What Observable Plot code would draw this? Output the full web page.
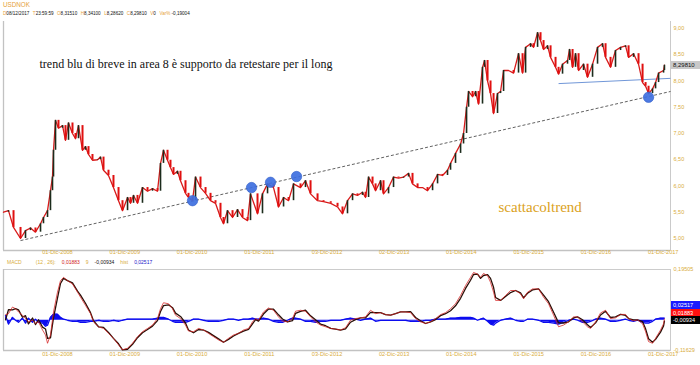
<!DOCTYPE html>
<html><head><meta charset="utf-8">
<script src="https://cdn.jsdelivr.net/npm/d3@7"></script>
<script src="https://cdn.jsdelivr.net/npm/@observablehq/plot@0.6"></script>
<style>
body{margin:0;background:#fff;font-family:"Liberation Sans",Arial,sans-serif;}
#wrap{position:relative;width:700px;height:365px;overflow:hidden;background:#fff;}
.s{position:absolute;white-space:pre;line-height:1;}
.row{position:absolute;white-space:pre;line-height:1;}
.box{position:absolute;white-space:pre;line-height:8px;height:8px;font-size:6px;padding-left:2px;box-sizing:border-box;}
#p1{position:absolute;left:0;top:18px;}
#p2{position:absolute;left:0;top:261px;}
</style></head>
<body><div id="wrap"><div id="p1"></div><div id="p2"></div></div>
<script>
const gold = "#d8ac3c";
const orange = "#e6a23a";

// header
const title = "USDNOK";
const quoteLabels = ["D", "T", "O", "H", "L", "C", "V", "Var%"];
const quoteValues = ["08/12/2017", "23:59:59", "8,31510", "8,34100", "8,28620", "8,29810", "0", "-0,19004"];
const macdHeader = [["MACD", gold], ["(12 , 26):", gold], ["0,01883", "#d01818"], ["9", gold], ["-0,00934", "#111"], ["hist", gold], ["0,02517", "#1818c8"]];

// axes
const xDomain = [2008.115, 2018.025];
const priceDomain = [4.771, 9.133];
const macdDomain = [-0.11629, 0.19505];
const xTickPos = [2008.917, 2009.917, 2010.917, 2011.917, 2012.922, 2013.919, 2014.917, 2015.917, 2016.917, 2017.917];
const xTickLabels = ["01-Dic-2008", "01-Dic-2009", "01-Dic-2010", "01-Dic-2011", "03-Dic-2012", "02-Dic-2013", "01-Dic-2014", "01-Dic-2015", "01-Dic-2016", "01-Dic-2017"];
const yTicks = [5, 5.5, 6, 6.5, 7, 7.5, 8, 8.5, 9];

// price (decimal year, close)
const price = [
[2008.115,5.50],[2008.189,5.53],[2008.264,5.21],[2008.368,5.00],[2008.442,5.15],[2008.516,5.20],[2008.590,5.12],[2008.665,5.28],
[2008.709,5.40],[2008.769,5.53],[2008.813,5.91],[2008.843,6.17],[2008.858,6.68],[2008.888,7.25],[2008.932,7.10],[2008.992,7.15],
[2009.036,6.87],[2009.081,7.20],[2009.140,7.00],[2009.185,6.90],[2009.229,7.15],[2009.289,6.68],[2009.333,6.75],[2009.378,6.60],
[2009.437,6.49],[2009.512,6.50],[2009.556,6.55],[2009.601,6.30],[2009.675,6.20],[2009.749,5.97],[2009.824,5.72],[2009.883,5.53],
[2009.958,5.78],[2010.002,5.67],[2010.047,5.82],[2010.106,5.67],[2010.180,5.97],[2010.255,5.90],[2010.329,5.95],[2010.403,5.90],
[2010.448,6.43],[2010.492,6.68],[2010.552,6.49],[2010.596,6.35],[2010.641,6.22],[2010.700,6.28],[2010.745,6.10],[2010.819,5.86],
[2010.864,5.78],[2010.923,5.72],[2010.968,6.17],[2011.042,5.97],[2011.117,5.86],[2011.191,5.72],[2011.265,5.67],[2011.339,5.40],
[2011.384,5.28],[2011.443,5.53],[2011.518,5.40],[2011.592,5.55],[2011.666,5.40],[2011.741,5.34],[2011.785,5.85],[2011.889,5.47],
[2011.963,5.85],[2012.038,6.04],[2012.127,5.97],[2012.201,5.60],[2012.276,5.78],[2012.350,5.72],[2012.424,6.04],[2012.528,5.97],
[2012.602,6.10],[2012.677,5.85],[2012.781,5.72],[2012.870,5.70],[2012.977,5.67],[2013.078,5.60],[2013.152,5.47],[2013.226,5.72],
[2013.301,5.85],[2013.375,5.82],[2013.449,5.88],[2013.494,5.78],[2013.539,6.17],[2013.598,6.04],[2013.643,5.91],[2013.717,6.10],
[2013.761,5.85],[2013.836,5.97],[2013.910,6.17],[2013.984,6.15],[2014.059,6.17],[2014.133,6.24],[2014.192,6.04],[2014.267,5.97],
[2014.341,5.97],[2014.415,5.91],[2014.490,6.04],[2014.564,6.22],[2014.638,6.20],[2014.712,6.30],[2014.757,6.43],[2014.831,6.62],
[2014.906,6.80],[2014.950,7.00],[2014.995,7.50],[2015.025,7.80],[2015.084,7.70],[2015.129,7.80],[2015.173,7.56],[2015.232,8.26],
[2015.262,8.39],[2015.307,8.00],[2015.351,7.76],[2015.396,7.38],[2015.455,7.76],[2015.500,7.80],[2015.545,8.20],[2015.619,8.20],
[2015.693,8.15],[2015.767,8.52],[2015.827,8.15],[2015.872,8.64],[2015.946,8.71],[2015.990,8.64],[2016.050,8.92],[2016.094,8.77],
[2016.139,8.60],[2016.198,8.67],[2016.243,8.45],[2016.317,8.26],[2016.362,8.13],[2016.421,8.32],[2016.495,8.39],[2016.525,8.60],
[2016.570,8.26],[2016.614,8.52],[2016.659,8.20],[2016.733,8.32],[2016.792,8.07],[2016.867,8.32],[2016.941,8.64],[2017.015,8.71],
[2017.060,8.45],[2017.134,8.26],[2017.208,8.58],[2017.283,8.64],[2017.357,8.67],[2017.402,8.45],[2017.476,8.52],[2017.550,8.32],
[2017.610,7.97],[2017.655,7.90],[2017.699,7.76],[2017.758,7.85],[2017.803,7.97],[2017.848,8.15],[2017.922,8.20],[2017.935,8.30]
];
const lastClose = 8.2981;

// annotations
const trendLine = [{x1: 2008.368, y1: 4.96, x2: 2018.025, y2: 7.80}];
const supportLine = [{x1: 2016.362, y1: 7.95, x2: 2018.025, y2: 8.05}];
const touches = [[2010.923, 5.72], [2011.800, 5.97], [2012.082, 6.07], [2012.469, 6.18], [2017.699, 7.69]];
const notes = [
  {x: 2008.65, y: 8.33, text: "trend blu di breve in area 8 è supporto da retestare per il long", size: 12, color: "#111"},
  {x: 2015.47, y: 5.59, text: "scattacoltrend", size: 15, color: "#dba21c"}
];

// MACD (decimal year, macd, histogram)
const macd = [
[2008.145,0.0205,0.019],[2008.189,0.0254,-0.015],[2008.249,0.0509,0.011],[2008.293,0.0444,0.000],[2008.338,0.0319,-0.008],
[2008.397,0.0194,0.008],[2008.442,0.0065,-0.011],[2008.486,-0.0061,0.008],[2008.546,0.0004,-0.008],[2008.590,-0.0125,0.004],
[2008.635,-0.0061,-0.008],[2008.695,-0.0376,-0.011],[2008.739,-0.0566,-0.023],[2008.769,-0.0885,-0.019],[2008.813,-0.0566,0.011],
[2008.858,0.0319,0.023],[2008.917,0.1078,0.023],[2008.962,0.1523,0.011],[2009.007,0.1648,0.004],[2009.066,0.1523,0.000],
[2009.140,0.1394,-0.004],[2009.215,0.1078,-0.004],[2009.259,0.0888,-0.008],[2009.333,0.0573,-0.008],[2009.408,0.0254,-0.004],
[2009.452,-0.0061,-0.004],[2009.527,-0.0251,0.000],[2009.601,-0.0315,-0.004],[2009.675,-0.0505,-0.004],[2009.749,-0.0695,0.000],
[2009.824,-0.0945,-0.004],[2009.883,-0.1135,0.000],[2009.958,-0.1075,0.004],[2010.032,-0.0885,0.004],[2010.106,-0.0630,0.004],
[2010.180,-0.0440,0.004],[2010.255,-0.0315,0.004],[2010.329,-0.0186,0.004],[2010.403,0.0065,0.008],[2010.448,0.0444,0.011],
[2010.492,0.0672,0.011],[2010.567,0.0634,0.004],[2010.626,0.0444,-0.004],[2010.671,0.0194,-0.008],[2010.745,0.0065,-0.008],
[2010.819,-0.0186,-0.008],[2010.864,-0.0414,-0.004],[2010.938,-0.0440,0.004],[2011.013,-0.0315,0.004],[2011.087,-0.0376,0.000],
[2011.161,-0.0505,-0.004],[2011.235,-0.0630,-0.004],[2011.310,-0.0756,-0.004],[2011.384,-0.0847,0.000],[2011.458,-0.0695,0.004],
[2011.533,-0.0566,0.004],[2011.607,-0.0505,0.000],[2011.681,-0.0376,0.004],[2011.756,-0.0315,0.004],[2011.815,-0.0061,0.008],
[2011.860,0.0065,0.004],[2011.904,0.0004,0.004],[2011.978,0.0319,0.008],[2012.053,0.0471,0.004],[2012.127,0.0384,-0.004],
[2012.201,0.0129,-0.008],[2012.261,-0.0034,-0.008],[2012.335,-0.0061,0.000],[2012.409,0.0065,0.008],[2012.454,0.0346,0.008],
[2012.528,0.0384,0.004],[2012.602,0.0346,-0.004],[2012.677,0.0129,-0.004],[2012.751,-0.0061,-0.008],[2012.825,-0.0186,-0.004],
[2012.900,-0.0251,-0.004],[2012.977,-0.0315,0.000],[2013.048,-0.0338,0.000],[2013.123,-0.0376,0.000],[2013.197,-0.0289,0.004],
[2013.271,0.0004,0.008],[2013.345,0.0065,0.004],[2013.420,0.0091,0.000],[2013.494,0.0129,0.004],[2013.568,0.0384,0.008],
[2013.643,0.0254,-0.004],[2013.717,0.0292,0.000],[2013.791,0.0216,0.000],[2013.866,0.0194,0.000],[2013.940,0.0254,0.000],
[2014.014,0.0319,0.000],[2014.088,0.0319,0.000],[2014.163,0.0292,-0.004],[2014.237,0.0065,-0.004],[2014.311,-0.0061,-0.004],
[2014.386,-0.0125,0.000],[2014.460,-0.0061,0.000],[2014.534,0.0065,0.004],[2014.608,0.0216,0.004],[2014.683,0.0292,0.004],
[2014.757,0.0444,0.008],[2014.831,0.0634,0.008],[2014.906,0.0953,0.011],[2014.980,0.1333,0.011],[2015.054,0.1648,0.011],
[2015.099,0.1838,0.008],[2015.158,0.1773,0.000],[2015.203,0.1648,0.004],[2015.247,0.1800,0.008],[2015.307,0.1712,-0.004],
[2015.351,0.1458,-0.015],[2015.396,0.1078,-0.019],[2015.426,0.0763,-0.011],[2015.500,0.0763,0.000],[2015.574,0.0953,0.004],
[2015.649,0.1143,0.008],[2015.723,0.1143,0.000],[2015.797,0.1014,-0.004],[2015.842,0.0824,-0.004],[2015.901,0.1078,0.004],
[2015.975,0.1204,0.004],[2016.065,0.1204,0.000],[2016.139,0.0888,-0.008],[2016.213,0.0634,-0.008],[2016.288,0.0194,-0.011],
[2016.362,-0.0251,-0.015],[2016.436,-0.0186,-0.008],[2016.510,-0.0061,0.000],[2016.585,0.0129,0.004],[2016.644,0.0129,0.000],
[2016.718,-0.0061,-0.008],[2016.792,-0.0251,-0.008],[2016.837,-0.0315,-0.004],[2016.912,-0.0061,0.004],[2016.986,0.0281,0.008],
[2017.060,0.0384,0.004],[2017.134,0.0065,-0.004],[2017.208,0.0091,-0.004],[2017.283,0.0224,0.000],[2017.357,0.0224,0.004],
[2017.402,0.0065,0.000],[2017.476,-0.0023,-0.004],[2017.536,0.0015,0.000],[2017.610,-0.0137,-0.008],[2017.655,-0.0440,-0.011],
[2017.699,-0.0820,-0.011],[2017.758,-0.0885,-0.004],[2017.803,-0.0695,0.004],[2017.877,-0.0376,0.008],[2017.922,-0.0137,0.008],
[2017.935,0.0050,0.008]
];
const macdLast = {hist: 0.02517, macd: 0.01883, signal: -0.00934};

// tables
const rows = price.map(([t, c], i) => ({t, c, o: i ? price[i - 1][1] : c}));
const macdRows = macd.map(([t, m, h]) => ({t, m, h, s: m - h}));
const labelOf = new Map(xTickPos.map((p, i) => [p, xTickLabels[i]]));
const fmt2 = d => d.toFixed(2).replace(".", ",");
const fmt5 = d => (d < 0 ? "-" : "") + Math.abs(d).toFixed(5).replace(".", ",");

const font = {fontFamily: "'Liberation Sans', Arial, sans-serif", background: "transparent", overflow: "visible"};

const main = Plot.plot({
  width: 700, height: 243, marginTop: 3, marginBottom: 11, marginLeft: 3, marginRight: 30,
  style: font,
  x: {domain: xDomain},
  y: {domain: priceDomain},
  marks: [
    Plot.ruleX([xDomain[0]], {stroke: "#c2c2c2", strokeWidth: 1.3}),
    Plot.ruleX([xDomain[1]], {stroke: "#cacaca", strokeWidth: 1}),
    Plot.ruleY([priceDomain[0]], {stroke: "#c2c2c2", strokeWidth: 1.3}),
    Plot.axisX({ticks: xTickPos, tickFormat: d => labelOf.get(d), tickSize: 0, tickPadding: 0, fontSize: 5.6, color: gold, label: null}),
    Plot.axisY({anchor: "right", ticks: yTicks, tickFormat: fmt2, tickSize: 0, tickPadding: 3, fontSize: 5.5, color: gold, label: null}),
    Plot.link(trendLine, {x1: "x1", y1: "y1", x2: "x2", y2: "y2", stroke: "#3a3a3a", strokeWidth: 0.8, strokeDasharray: "3,2"}),
    Plot.link(supportLine, {x1: "x1", y1: "y1", x2: "x2", y2: "y2", stroke: "#7197d8", strokeWidth: 1}),
    Plot.line(rows, {x: "t", y: "c", stroke: "#d81a1a", strokeWidth: 1.3}),
    Plot.ruleX(rows.filter(d => d.c < d.o), {x: "t", y1: "o", y2: "c", stroke: "#e01010", strokeWidth: 2}),
    Plot.ruleX(rows.filter(d => d.c >= d.o), {x: "t", y1: "o", y2: "c", stroke: "#1c2c1c", strokeWidth: 1.6}),
    Plot.dot(touches, {x: d => d[0], y: d => d[1], r: 5.2, fill: "#3e6fe0", fillOpacity: 0.92, stroke: "#2f5cc8", strokeWidth: 0.6}),
    Plot.text(notes, {x: "x", y: "y", text: "text", fontSize: d => d.size, fill: d => d.color, textAnchor: "start", lineAnchor: "middle", fontFamily: "'Liberation Serif', 'Times New Roman', serif"})
  ]
});
document.getElementById("p1").appendChild(main);

const sub = Plot.plot({
  width: 700, height: 104, marginTop: 8, marginBottom: 15, marginLeft: 3, marginRight: 30,
  style: font,
  x: {domain: xDomain},
  y: {domain: macdDomain},
  marks: [
    Plot.frame({stroke: "#cccccc"}),
    Plot.ruleX([xDomain[0]], {stroke: "#c2c2c2", strokeWidth: 1.3}),
    Plot.ruleY([macdDomain[0]], {stroke: "#c2c2c2", strokeWidth: 1.3}),
    Plot.axisX({ticks: xTickPos, tickFormat: d => labelOf.get(d), tickSize: 0, tickPadding: 2, fontSize: 5.6, color: gold, label: null}),
    Plot.axisY({anchor: "right", ticks: macdDomain, tickFormat: fmt5, tickSize: 0, tickPadding: 3, fontSize: 5.5, color: gold, label: null}),
    Plot.areaY(macdRows, {x: "t", y1: () => 0, y2: "h", fill: "#0c0cef"}),
    Plot.line(macdRows, {x: "t", y: "h", stroke: "#0c0cef", strokeWidth: 1.3}),
    Plot.line(macdRows, {x: "t", y: "s", stroke: "#2a1008", strokeWidth: 1.3}),
    Plot.line(macdRows, {x: "t", y: "m", stroke: "#d42020", strokeWidth: 1, strokeOpacity: 0.75})
  ]
});
document.getElementById("p2").appendChild(sub);

// overlay texts
const wrap = document.getElementById("wrap");
function span(text, left, top, size, color, cls = "s") {
  const e = document.createElement("div");
  e.className = cls; e.textContent = text;
  e.style.left = left + "px"; e.style.top = top + "px";
  e.style.fontSize = size + "px"; e.style.color = color;
  wrap.appendChild(e); return e;
}
span(title, 3, 2, 6.3, orange);

// quote row as one flowing line
const row = document.createElement("div");
row.className = "row"; row.style.left = "3px"; row.style.top = "11.5px"; row.style.fontSize = "4.6px";
quoteLabels.forEach((l, i) => {
  const a = document.createElement("span"); a.textContent = l + (l.length > 1 ? " " : ""); a.style.color = orange;
  const b = document.createElement("span"); b.textContent = quoteValues[i]; b.style.color = "#111"; b.style.marginRight = "3.5px";
  row.appendChild(a); row.appendChild(b);
});
wrap.appendChild(row);

// MACD header as one flowing line
const mrow = document.createElement("div");
mrow.className = "row"; mrow.style.left = "7px"; mrow.style.top = "259.5px"; mrow.style.fontSize = "5px";
macdHeader.forEach(([t, c], i) => {
  const a = document.createElement("span"); a.textContent = t; a.style.color = c;
  a.style.marginRight = i === 0 ? "14px" : "6px";
  mrow.appendChild(a);
});
wrap.appendChild(mrow);

// value boxes
const yPrice = 18 + main.scale("y").apply(lastClose);
const b0 = span(fmt5(lastClose), 671, yPrice - 4, 6, "#111", "box");
b0.style.background = "#c9c9c9"; b0.style.width = "29px";
const ym = 261 + sub.scale("y").apply(macdLast.macd) - 2;
[[fmt5(macdLast.hist), "#1a1aff", ym - 7.5], [fmt5(macdLast.macd), "#ff1010", ym], [fmt5(macdLast.signal), "#000", ym + 7.5]].forEach(([t, bg, y]) => {
  const b = span(t, 671, y - 4, 5.6, "#fff", "box");
  b.style.background = bg; b.style.width = "29px";
});
</script></body></html>
